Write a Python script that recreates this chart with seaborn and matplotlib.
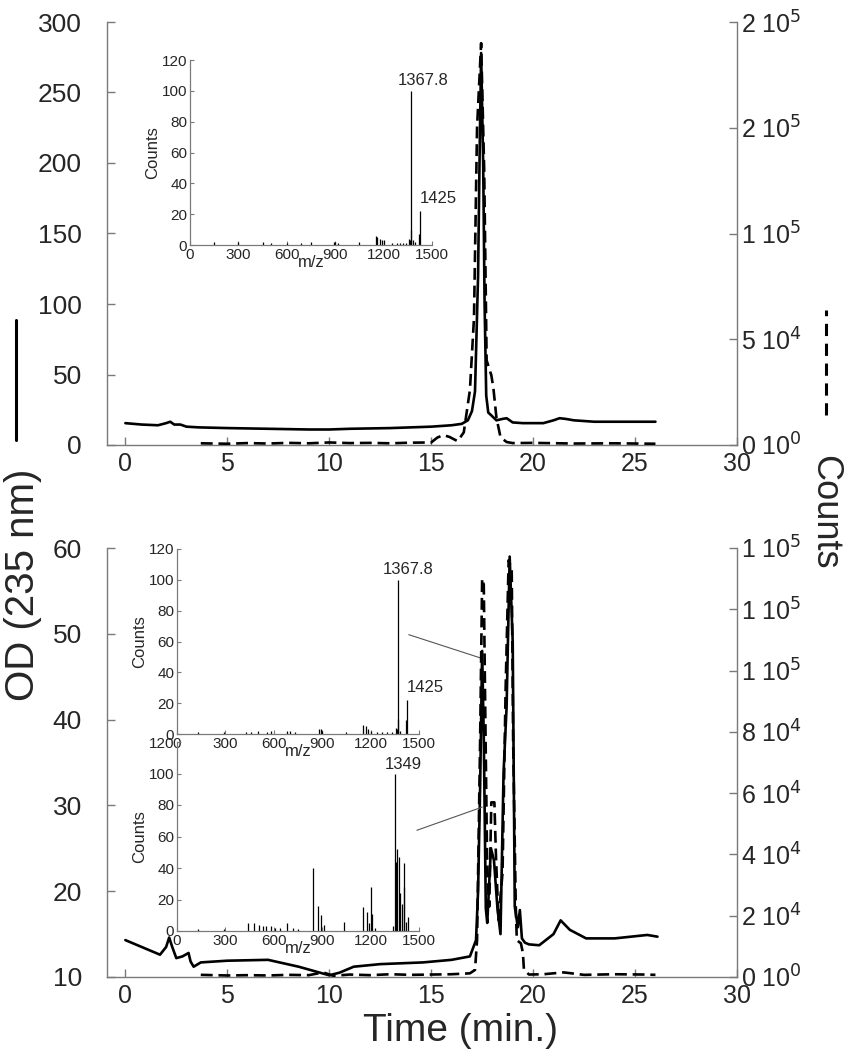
"""plot.py
HPLC chromatograms (UV + MS counts) with inset mass spectra.
"""

# Imports
import matplotlib
matplotlib.use("Agg")
import matplotlib.pyplot as plt
from matplotlib.lines import Line2D
from matplotlib.ticker import FuncFormatter, MultipleLocator
import seaborn as sns
import numpy as np


# ---- data -------------------------------------------------------------
# top panel, UV trace (OD 235 nm)
t_top_uv = [0, 0.8, 1.6, 2.0, 2.2, 2.4, 2.7, 3.0, 3.6, 5, 7, 9, 10, 11, 13,
            15, 16.0, 16.5, 16.8, 17.0, 17.15, 17.3, 17.38, 17.45, 17.55,
            17.62, 17.7, 17.8, 17.95, 18.2, 18.5, 18.7, 19.0, 19.5, 20.5,
            21.0, 21.3, 21.6, 22.0, 23.0, 24.5, 26.0]
od_top = [15.5, 14.5, 14, 15.5, 16.5, 14.5, 14.5, 13, 12.5, 12, 11.5, 11, 11,
          11.5, 12, 13, 14, 15, 17.5, 24, 38, 120, 210, 278, 200,
          100, 35, 23, 21, 17.5, 18.5, 19, 16, 15.5, 15.5,
          17.5, 19, 18.5, 17.5, 16.5, 16.5, 16.5]

# top panel, MS trace (counts)
t_top_ms = [3.7, 5, 6, 7, 8, 9, 10, 11, 12, 13, 14, 15.0, 15.3, 15.6, 15.9,
            16.3, 16.6, 16.9, 17.1, 17.25, 17.45, 17.6, 17.72, 17.85, 17.95,
            18.05, 18.2, 18.4, 18.7, 19.0, 20, 22, 24, 26]
counts_top = [800, 600, 900, 700, 1000, 800, 1200, 900, 1000, 800, 1100,
              1200, 3500, 4700, 3800, 1800, 6000, 26000, 60000, 150000,
              190000, 130000, 40000, 36000, 33000, 27000, 13000, 3700, 1400,
              900, 1000, 700, 800, 600]

# bottom panel, UV trace
t_bot_uv = [0, 0.8, 1.7, 2.0, 2.15, 2.3, 2.5, 2.8, 3.1, 3.2, 3.35, 3.7, 5, 7,
            8.5, 9.7, 10.0, 10.5, 11.2, 12.5, 14.6, 16.0, 16.9, 17.2, 17.3,
            17.4, 17.5, 17.58, 17.68, 17.75, 17.93, 18.08, 18.25, 18.4,
            18.55, 18.7, 18.85, 19.0, 19.1, 19.25, 19.35, 19.45, 19.6, 19.8,
            20.3, 21.0, 21.35, 21.8, 22.6, 24.0, 25.6, 26.1]
od_bot = [14.3, 13.5, 12.6, 13.5, 14.6, 13.5, 12.2, 12.4, 12.8, 11.8, 11.2,
          11.7, 11.9, 12.0, 11.2, 10.4, 10.2, 10.5, 11.2, 11.5, 11.7, 12.0,
          12.4, 14.3, 20, 32, 48, 38, 18, 16.3, 25, 23.6, 18, 15,
          33.8, 41.5, 59, 49, 18.2, 15.8, 17.8, 14.5, 14.0, 13.8,
          13.7, 15, 16.6, 15.5, 14.5, 14.5, 14.9, 14.7]

# bottom panel, MS trace
t_bot_ms = [3.7, 5, 6, 7, 8, 9, 9.7, 10.2, 11, 12, 13, 14, 15, 16, 16.9,
            17.15, 17.25, 17.4, 17.5, 17.58, 17.65, 17.75, 17.85, 17.95,
            18.1, 18.18, 18.3, 18.5, 18.65, 18.8, 18.95, 19.02, 19.15, 19.2,
            19.4, 19.5, 19.55, 19.8, 20.5, 21.5, 22.5, 24, 25.5, 26]
counts_bot = [700, 500, 600, 500, 700, 600, 1500, 400, 800, 600, 900, 700,
              800, 900, 1200, 2300, 12000, 77000, 130000, 128000, 88000,
              34000, 23000, 57000, 57000, 39000, 18600, 34000, 93600, 136000,
              133000, 77000, 23000, 12000, 11000, 7800, 2300, 800, 900, 1500,
              700, 900, 800, 700]

# inset mass spectra (m/z, relative counts)
mz_top = [150, 300, 450, 500, 600, 690, 750, 890, 900, 920, 1050, 1150,
          1160, 1175, 1190, 1200, 1250, 1280, 1300, 1320, 1340, 1355, 1362,
          1367.8, 1372, 1380, 1395, 1420, 1425]
int_top = [2, 2, 2, 1, 1, 1, 2, 2, 2, 1, 2, 6, 5, 4, 3, 3, 1, 1, 1, 1, 1, 4,
           3, 100, 10, 3, 2, 7, 22]

mz_a = [130, 290, 430, 460, 500, 560, 580, 680, 700, 730, 880, 890, 900,
        1050, 1150, 1170, 1185, 1200, 1240, 1270, 1300, 1330, 1355, 1362,
        1367.8, 1372, 1385, 1420, 1425]
int_a = [1, 1, 1, 1, 2, 1, 2, 2, 2, 1, 3, 3, 2, 1, 6, 5, 3, 2, 1, 1, 1, 1, 4,
         3, 100, 10, 2, 9, 22]

mz_b = [130, 290, 440, 480, 510, 530, 550, 580, 610, 640, 680, 720, 750,
        845, 875, 895, 910, 1035, 1150, 1175, 1190, 1200, 1210, 1230, 1340,
        1349, 1355, 1365, 1375, 1380, 1395, 1405, 1410, 1420, 1430]
int_b = [1, 1, 5, 5, 4, 3, 3, 3, 2, 2, 5, 2, 1, 40, 16, 10, 4, 6, 15, 12, 5,
         28, 11, 2, 3, 100, 44, 52, 47, 24, 17, 43, 28, 6, 9]

time_ticks = [0, 5, 10, 15, 20, 25, 30]
mz_ticks = [0, 300, 600, 900, 1200, 1500]


# ---- style ------------------------------------------------------------
sns.set_style("white")
plt.rcParams['font.family'] = ['Liberation Sans', 'DejaVu Sans']

SPINE = '#7a7a7a'
W, H = 845, 1050


def fig_box(x0, y0, x1, y1):
    """pixel box (top-left origin) -> figure rect"""
    return [x0 / W, 1 - y1 / H, (x1 - x0) / W, (y1 - y0) / H]


def sci_label(v, pos):
    if v <= 0:
        return r'0 10$^{0}$'
    e = int(np.floor(np.log10(v)))
    m = int(v / 10 ** e + 0.5)
    return r'%d 10$^{%d}$' % (m, e)


def main_panel(fig, rect, t_uv, od, t_ms, counts, ylim, ystep, rlim, rstep):
    ax = fig.add_axes(rect)
    ax2 = ax.twinx()

    sns.lineplot(x=t_uv, y=od, ax=ax, color='black', lw=1.9, sort=False)
    sns.lineplot(x=t_ms, y=counts, ax=ax2, color='black', lw=1.9,
                 sort=False, linestyle=(0, (4.5, 2.2)))

    ax.set_xlim(-0.9, 30)
    ax.set_ylim(*ylim)
    ax2.set_ylim(*rlim)
    ax.set_xticks(time_ticks)
    ax.yaxis.set_major_locator(MultipleLocator(ystep))
    ax2.yaxis.set_major_locator(MultipleLocator(rstep))
    ax2.yaxis.set_major_formatter(FuncFormatter(sci_label))

    for a in (ax, ax2):
        a.set_xlabel('')
        a.set_ylabel('')
        a.spines['top'].set_visible(False)
        for s in a.spines.values():
            s.set_color(SPINE)
            s.set_linewidth(1.0)
    ax.spines['right'].set_visible(False)
    ax2.spines['left'].set_visible(False)
    ax2.spines['bottom'].set_visible(False)

    ax.tick_params(axis='both', direction='in', length=6, width=1,
                   color=SPINE, labelsize=19)
    ax.tick_params(axis='y', left=True, pad=18)
    ax.tick_params(axis='x', bottom=True, pad=5, labelsize=18)
    ax2.tick_params(axis='y', direction='in', right=True, length=6,
                    width=1, color=SPINE, labelsize=18, pad=3)
    return ax, ax2


def spectrum_inset(fig, rect, mz, inten, labels):
    ax = fig.add_axes(rect)
    ax.vlines(mz, 0, inten, color='black', lw=0.9)
    ax.set_xlim(0, 1500)
    ax.set_ylim(0, 120)
    ax.set_xticks(mz_ticks)
    ax.yaxis.set_major_locator(MultipleLocator(20))
    sns.despine(ax=ax)
    for s in ax.spines.values():
        s.set_color(SPINE)
        s.set_linewidth(0.9)
    ax.tick_params(axis='both', direction='in', length=3, width=0.8,
                   color=SPINE, labelsize=11, pad=2, left=True, bottom=True)
    ax.set_xlabel('m/z', fontsize=12, labelpad=-5)
    ax.set_ylabel('Counts', fontsize=12, labelpad=1)
    ax.patch.set_alpha(0)
    for txt, x, y in labels:
        ax.text(x, y, txt, fontsize=12, ha='left', va='bottom')
    return ax


# ---- figure -----------------------------------------------------------
fig = plt.figure(figsize=(8.45, 10.5), dpi=100)

ax_t, ax_t2 = main_panel(fig, fig_box(107, 22, 737, 445), t_top_uv, od_top,
                         t_top_ms, counts_top, (0, 300), 50, (0, 2e5), 5e4)
ax_b, ax_b2 = main_panel(fig, fig_box(107, 548, 737, 977), t_bot_uv, od_bot,
                         t_bot_ms, counts_bot, (10, 60), 10, (0, 1.4e5), 2e4)

spectrum_inset(fig, fig_box(190, 60, 432, 245), mz_top, int_top,
               [('1367.8', 1285, 102), ('1425', 1425, 25)])
spectrum_inset(fig, fig_box(177, 549, 419, 734), mz_a, int_a,
               [('1367.8', 1275, 102), ('1425', 1425, 25)])
spectrum_inset(fig, fig_box(177, 742, 419, 931), mz_b, int_b,
               [('1349', 1290, 101)])

# pointer lines from insets to peaks (bottom panel, OD coordinates)
ax_b.plot([13.9, 17.4], [49.9, 47.2], color='#555555', lw=0.8)
ax_b.plot([14.3, 17.5], [27.1, 29.8], color='#555555', lw=0.8)

# axis titles
fig.text(0.545, 0.018, 'Time (min.)', fontsize=28, ha='center', va='center')
fig.text(0.027, 0.443, 'OD (235 nm)', fontsize=29, rotation=90,
         ha='center', va='center')
fig.text(0.976, 0.512, 'Counts', fontsize=26, rotation=-90,
         ha='center', va='center')

# line-style keys next to the axis titles
fig.add_artist(Line2D([16 / W, 16 / W], [1 - 440 / H, 1 - 320 / H],
                      color='black', lw=2.2))
fig.add_artist(Line2D([826 / W, 826 / W], [1 - 415 / H, 1 - 310 / H],
                      color='black', lw=2.2, linestyle=(0, (4, 2.5))))

plt.savefig('out.png', dpi=100)
